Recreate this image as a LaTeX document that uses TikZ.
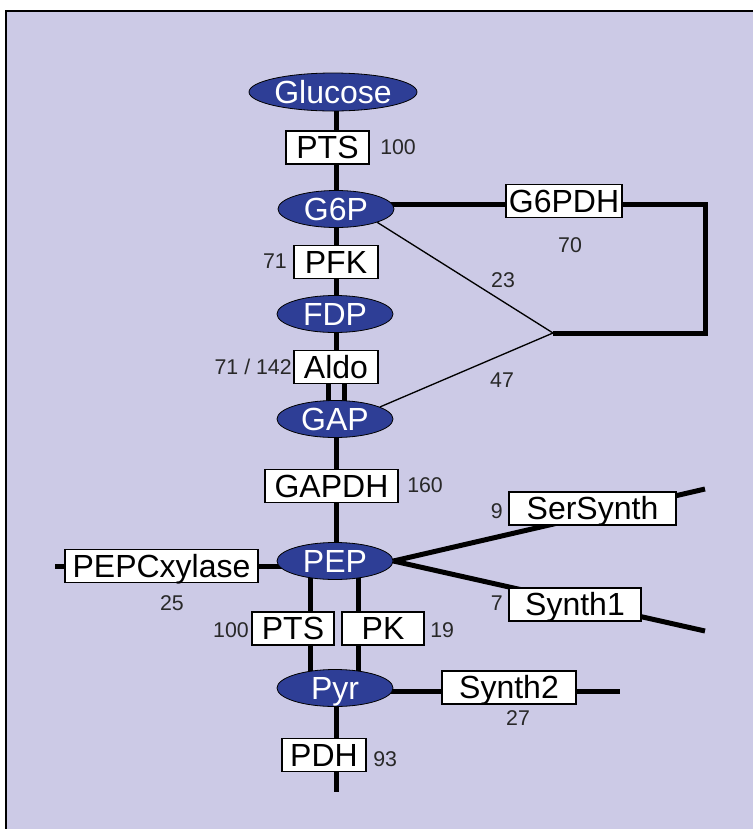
\documentclass[tikz,border=0pt]{standalone}
\usepackage{fontspec}
\setmainfont{Liberation Sans}
\usetikzlibrary{shapes.geometric,calc}
\pgfdeclarelayer{back}
\pgfdeclarelayer{bg}
\pgfsetlayers{back,bg,main}
\definecolor{lav}{RGB}{204,202,230}
\definecolor{metblue}{RGB}{46,62,150}
\definecolor{numgray}{RGB}{40,40,40}
\begin{document}
\begin{tikzpicture}[x=0.75pt,y=-0.75pt,
  met/.style={ellipse,draw=black,line width=0.6pt,fill=metblue,text=white,inner sep=0pt,
    minimum width=87pt,minimum height=27.75pt,font=\fontsize{24}{24}\selectfont,text height=17pt,text depth=0pt},
  enz/.style={rectangle,draw=black,line width=1.1pt,fill=white,inner sep=0pt,
    minimum height=24.75pt,font=\fontsize{24}{24}\selectfont,text height=17pt,text depth=0pt},
  num/.style={text=numgray,inner sep=0pt,font=\fontsize{16}{16}\selectfont},
  thickline/.style={line width=3.75pt},
  thinline/.style={line width=1pt}]

\useasboundingbox (0,0) rectangle (753,829);
\begin{pgfonlayer}{back}
  \fill[lav] (6,11) rectangle (753,829);
  \draw[line width=1.5pt] (6,829) -- (6,11) -- (753,11);
\end{pgfonlayer}

% metabolites and enzymes
\node[met,minimum width=126pt,minimum height=28.5pt] (glc) at (333,92) {Glucose};
\node[enz,minimum width=62.25pt] (pts1) at (327.5,147.5) {PTS};
\node[met] (g6p) at (336,209) {G6P};
\node[enz,minimum width=87pt] (g6pdh) at (564,201) {G6PDH};
\node[enz,minimum width=63pt] (pfk) at (336,262) {PFK};
\node[met] (fdp) at (335,314) {FDP};
\node[enz,minimum width=63pt] (aldo) at (336,367) {Aldo};
\node[met] (gap) at (335,419) {GAP};
\node[enz,minimum width=99.75pt] (gapdh) at (331.5,486) {GAPDH};
\node[met] (pep) at (335,561) {PEP};
\node[enz,minimum width=125.25pt] (ser) at (592.5,508.5) {SerSynth};
\node[enz,minimum width=99pt] (syn1) at (575,604.5) {Synth1};
\node[enz,minimum width=144.75pt] (pepc) at (161.5,566) {PEPCxylase};
\node[enz,minimum width=61.5pt] (pts2) at (293,628.5) {PTS};
\node[enz,minimum width=61.5pt] (pk) at (383,628.5) {PK};
\node[met] (pyr) at (335,688) {Pyr};
\node[enz,minimum width=100.5pt] (syn2) at (509,687.5) {Synth2};
\node[enz,minimum width=63pt] (pdh) at (324,755) {PDH};

% free ends
\coordinate (j) at (553,333);
\coordinate (c1) at (705,204);
\coordinate (c2) at (705,333);
\coordinate (serend) at (705,489);
\coordinate (syn1end) at (705,631);
\coordinate (pepcend) at (55,566);
\coordinate (syn2end) at (620,691);
\coordinate (pdhend) at (336,792);

\begin{pgfonlayer}{bg}
  \draw[thickline] (g6p |- glc) -- (g6p |- aldo);
  \draw[thickline] ($(aldo)+(-8,0)$) -- ($(aldo |- gap)+(-8,0)$);
  \draw[thickline] ($(aldo)+(8,0)$) -- ($(aldo |- gap)+(8,0)$);
  \draw[thickline] (g6p |- gap) -- (g6p |- pep);
  \draw[thickline] ($(g6p |- pep)+(-26,0)$) -- ($(g6p |- pyr)+(-26,0)$);
  \draw[thickline] ($(g6p |- pep)+(22,0)$) -- ($(g6p |- pyr)+(22,0)$);
  \draw[thickline] (g6p |- pyr) -- (pdhend);
  \draw[thickline,line join=miter] (g6p |- c1) -- (c1) -- (c2) -- (j);
  \draw[thinline] (g6p.south east) -- (j) -- (gap.15);
  \draw[thickline] (pep.east) -- (serend);
  \draw[thickline] (pep.east) -- (syn1end);
  \draw[thickline] (pep.center |- pepcend) -- (pepcend);
  \draw[thickline] (pyr.center |- syn2end) -- (syn2end);
\end{pgfonlayer}

% fluxes
\node[num,anchor=west] (f1) at (380,147) {100};
\node[num] (f2) at (570,245) {70};
\node[num,anchor=east] (f3) at (287,261) {71};
\node[num] (f4) at (503,280) {23};
\node[num,anchor=east] (f5) at (292,367) {71 / 142};
\node[num] (f6) at (502,380) {47};
\node[num,anchor=west] (f7) at (407,485) {160};
\node[num,anchor=east] (f8) at (503,511) {9};
\node[num] (f9) at (172,603) {25};
\node[num,anchor=east] (f10) at (503,603) {7};
\node[num,anchor=east] (f11) at (249,630) {100};
\node[num,anchor=west] (f12) at (430,630) {19};
\node[num] (f13) at (518,718) {27};
\node[num,anchor=west] (f14) at (373,759) {93};
\end{tikzpicture}
\end{document}
